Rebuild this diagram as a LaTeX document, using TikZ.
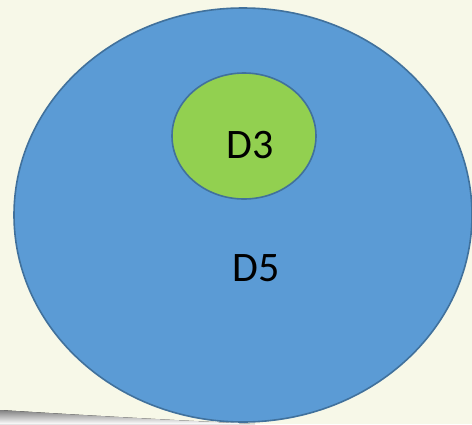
\documentclass[tikz,border=0pt]{standalone}
\usepackage{fontspec}
\setmainfont{Carlito}
\definecolor{paper}{HTML}{F7F8E8}
\definecolor{shade}{HTML}{E5E5EA}
\definecolor{setblue}{HTML}{5B9BD5}
\definecolor{setgreen}{HTML}{92D050}
\definecolor{rim}{HTML}{41719C}
\begin{document}
\begin{tikzpicture}[x=1pt,y=-1pt,
  setshape/.style={draw=rim,line width=1.6pt},
  setlabel/.style={font=\fontsize{42}{48}\selectfont,text=black,inner sep=0pt}]
  % page background
  \fill[paper] (0,0) rectangle (472,424);
  \useasboundingbox (0,0) rectangle (472,424);
  % faint band along the lower edge
  \fill[shade] (0,410) .. controls (80,415) and (170,420) .. (255,424) -- (0,424) -- cycle;
  % outer set D5
  \path[setshape,fill=setblue] (243,215) ellipse [x radius=229, y radius=207];
  \node[setlabel] (d5) at (256,268) {D5};
  % inner set D3
  \path[setshape,fill=setgreen] (244,136) ellipse [x radius=72, y radius=63];
  \node[setlabel] (d3) at (250,145) {D3};
\end{tikzpicture}
\end{document}
